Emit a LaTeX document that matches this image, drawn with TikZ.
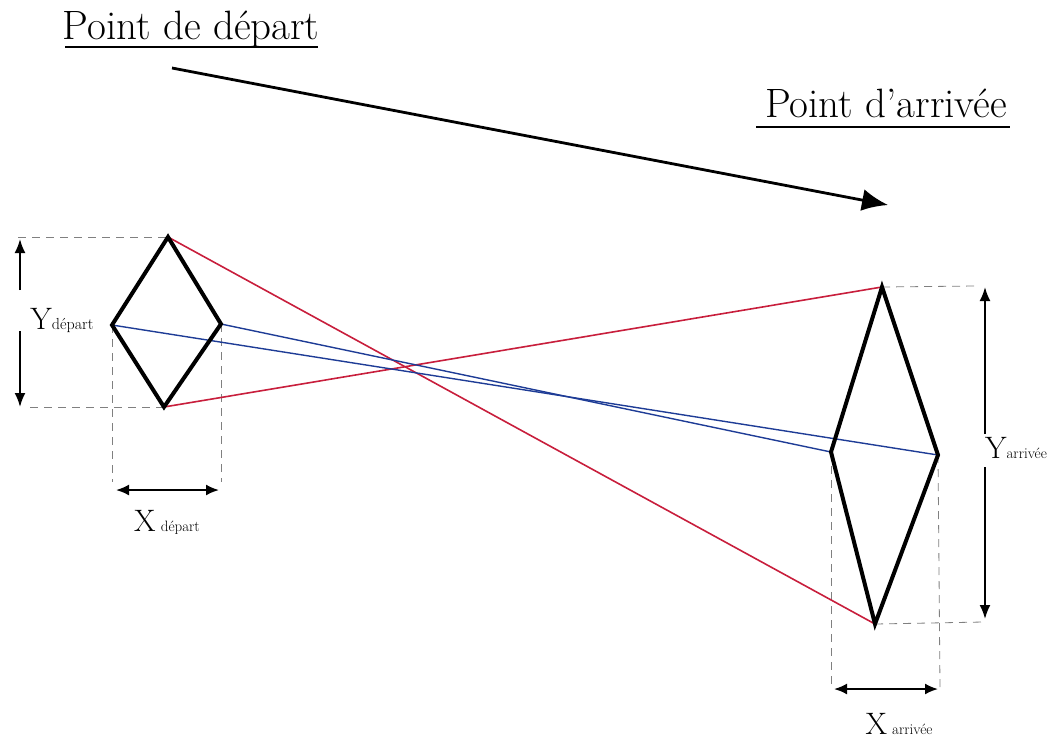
\documentclass[tikz,border=0pt]{standalone}
\usepackage{fontspec}
\usetikzlibrary{arrows.meta}
\definecolor{redl}{RGB}{200,30,60}
\definecolor{bluel}{RGB}{30,60,150}
\begin{document}
\begin{tikzpicture}[x=1pt,y=-1pt,
  diamondline/.style={line width=4pt,line join=miter,black},
  redline/.style={line width=1.6pt,redl},
  blueline/.style={line width=1.4pt,bluel},
  guide/.style={gray,line width=0.8pt,dash pattern=on 8pt off 6pt},
  dim/.style={line width=2pt,-{Latex[length=14pt,width=11pt]}},
  dimb/.style={line width=2pt,{Latex[length=13pt,width=11pt]}-{Latex[length=13pt,width=11pt]}},
  title/.style={font=\fontsize{41}{44}\selectfont\addfontfeature{FakeBold=1.2},inner sep=0pt,anchor=base},
  lab/.style={inner sep=0pt,anchor=base}]
\useasboundingbox (0,0) rectangle (1054,740);
% left diamond
\coordinate (LT) at (168,237);
\coordinate (LL) at (112,325);
\coordinate (LR) at (221,324);
\coordinate (LB) at (164,407);
% right diamond
\coordinate (RT) at (882,287);
\coordinate (RL) at (831,452);
\coordinate (RR) at (938,455);
\coordinate (RB) at (875,624);
% guides
\coordinate (g1) at (18,237);
\coordinate (g2) at (30,407);
\coordinate (g3) at (112,482);
\coordinate (g4) at (221,482);
\coordinate (g5) at (975,286);
\coordinate (g6) at (983,622);
\coordinate (g7) at (831,688);
\coordinate (g8) at (940,688);
\draw[guide] (g1) -- (LT);
\draw[guide] (g2) -- (LB);
\draw[guide] (LL) -- (g3);
\draw[guide] (LR) -- (g4);
\draw[guide] (RT) -- (g5);
\draw[guide] (RB) -- (g6);
\draw[guide] (RL) -- (g7);
\draw[guide] (RR) -- (g8);
% crossing lines
\draw[redline] (LT) -- (RB);
\draw[redline] (LB) -- (RT);
\draw[blueline] (LL) -- (RR);
\draw[blueline] (LR) -- (RL);
% diamonds
\draw[diamondline] (LT) -- (LR) -- (LB) -- (LL) -- cycle;
\draw[diamondline] (RT) -- (RR) -- (RB) -- (RL) -- cycle;
% titles
\node[title] (t1) at (191,39) {Point de départ};
\draw[line width=1.4pt] (65,47) -- (318,47);
\node[title] (t2) at (886,117) {Point d'arrivée};
\draw[line width=1.4pt] (756,127) -- (1010,127);
% big arrow
\coordinate (A1) at (172,68);
\coordinate (A2) at (888,205);
\draw[line width=2.8pt,-{Latex[length=26pt,width=22pt]}] (A1) -- (A2);
% Y depart
\node[lab] (yd) at (62,329) {\fontsize{31}{33}\selectfont Y\fontsize{16}{18}\selectfont départ};
\coordinate (yd1) at (20,290);
\coordinate (yd2) at (20,239);
\coordinate (yd3) at (20,331);
\coordinate (yd4) at (20,407);
\draw[dim] (yd1) -- (yd2);
\draw[dim] (yd3) -- (yd4);
% X depart
\coordinate (xd1) at (116,490);
\coordinate (xd2) at (219,490);
\draw[dimb] (xd1) -- (xd2);
\node[lab] (xd) at (167,531) {\fontsize{31}{33}\selectfont X\,\fontsize{15}{17}\selectfont départ};
% Y arrivee
\coordinate (ya1) at (985,434);
\coordinate (ya2) at (985,287);
\coordinate (ya3) at (985,467);
\coordinate (ya4) at (985,619);
\draw[dim] (ya1) -- (ya2);
\draw[dim] (ya3) -- (ya4);
\node[lab] (ya) at (1016,458) {\fontsize{31}{33}\selectfont Y\fontsize{15}{17}\selectfont arrivée};
% X arrivee
\coordinate (xa1) at (834,689);
\coordinate (xa2) at (938,689);
\draw[dimb] (xa1) -- (xa2);
\node[lab] (xa) at (899,734) {\fontsize{31}{33}\selectfont X\,\fontsize{15}{17}\selectfont arrivée};
\end{tikzpicture}
\end{document}
